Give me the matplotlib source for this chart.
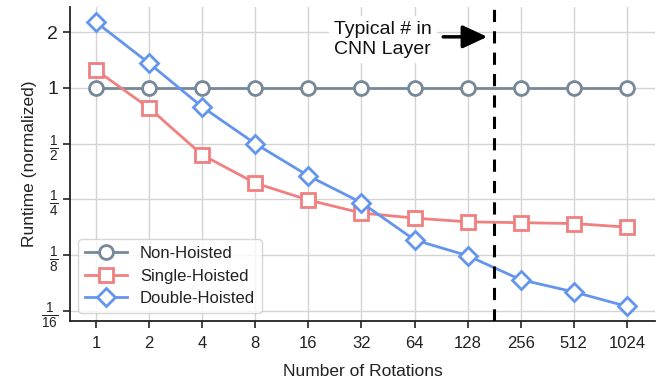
import matplotlib
matplotlib.use("Agg")
import matplotlib.pyplot as plt
import numpy as np

plt.rcParams['font.family'] = ['Liberation Sans', 'DejaVu Sans']
plt.rcParams['mathtext.fontset'] = 'custom'
plt.rcParams['mathtext.rm'] = 'Liberation Sans'
plt.rcParams['mathtext.it'] = 'Liberation Sans:italic'
plt.rcParams['mathtext.bf'] = 'Liberation Sans:bold'

rotations = [1, 2, 4, 8, 16, 32, 64, 128, 256, 512, 1024]
non_hoisted = [1, 1, 1, 1, 1, 1, 1, 1, 1, 1, 1]
single_hoisted = [1.25, 0.78, 0.435, 0.306, 0.248, 0.211, 0.198, 0.189, 0.187, 0.185, 0.177]
double_hoisted = [2.27, 1.36, 0.79, 0.50, 0.335, 0.24, 0.151, 0.124, 0.092, 0.079, 0.066]
typical_cnn = 181
ytick_vals = [1/16, 1/8, 1/4, 1/2, 1, 2]
ytick_labels = [r'$\frac{1}{16}$', r'$\frac{1}{8}$', r'$\frac{1}{4}$', r'$\frac{1}{2}$', '1', '2']

fig = plt.figure(figsize=(6.69, 3.87), dpi=100)
ax = fig.add_axes([70/669, 1-321/387, (655-70)/669, (321-7)/387])

xs = np.log2(rotations)
ax.plot(xs, non_hoisted, color='#778899', marker='o', markersize=10, markerfacecolor='white',
        markeredgewidth=2, lw=2, label='Non-Hoisted', zorder=3)
ax.plot(xs, single_hoisted, color='#F08080', marker='s', markersize=10, markerfacecolor='white',
        markeredgewidth=2, lw=2, label='Single-Hoisted', zorder=3)
ax.plot(xs, double_hoisted, color='#6495ED', marker='D', markersize=9, markerfacecolor='white',
        markeredgewidth=2, lw=2, label='Double-Hoisted', zorder=3)

xv = np.log2(typical_cnn)
ax.axvline(xv, color='black', ls=(0, (4, 3)), lw=2.2, zorder=4)

ax.set_yscale('log', base=2)
ax.set_ylim(0.055, 2.74)
ax.set_xlim(-0.49, 10.53)
ax.set_xticks(xs)
ax.set_xticklabels([str(r) for r in rotations], fontsize=12)
ax.set_yticks(ytick_vals)
ax.set_yticklabels(ytick_labels, fontsize=14)
ax.minorticks_off()
ax.tick_params(axis='both', direction='out', length=5, width=1.2, color='#222222', labelcolor='#222222')
ax.tick_params(axis='x', pad=6)

ax.grid(True, color='#d3d3d3', lw=1)
ax.set_axisbelow(True)
for s in ['top', 'right']:
    ax.spines[s].set_visible(False)
for s in ['left', 'bottom']:
    ax.spines[s].set_linewidth(1.3)
    ax.spines[s].set_color('#222222')

ax.set_xlabel('Number of Rotations', fontsize=12.5, labelpad=9, color='#222222')
ax.set_ylabel('Runtime (normalized)', fontsize=12.5, labelpad=3, color='#222222')

ax.text(xv - 1.17, 1.82, 'Typical # in\nCNN Layer', ha='right', va='center', fontsize=14,
        linespacing=1.25, color='#111111', multialignment='left',
        bbox=dict(boxstyle='square,pad=0.25', fc='white', ec='none'), zorder=5)
ax.annotate('', xy=(xv - 0.13, 1.89), xytext=(xv - 0.96, 1.89),
            arrowprops=dict(arrowstyle='-|>,head_width=0.7,head_length=1.5', color='black', lw=2.5,
                            shrinkA=0, shrinkB=0), zorder=5)

leg = ax.legend(loc='lower left', fontsize=12, frameon=True, handlelength=2.5, borderpad=0.4,
                labelspacing=0.45, bbox_to_anchor=(0.0, 0.0))
leg.get_frame().set_edgecolor('#cccccc')
for t in leg.get_texts():
    t.set_color('#222222')

fig.savefig('out.png', dpi=100)
